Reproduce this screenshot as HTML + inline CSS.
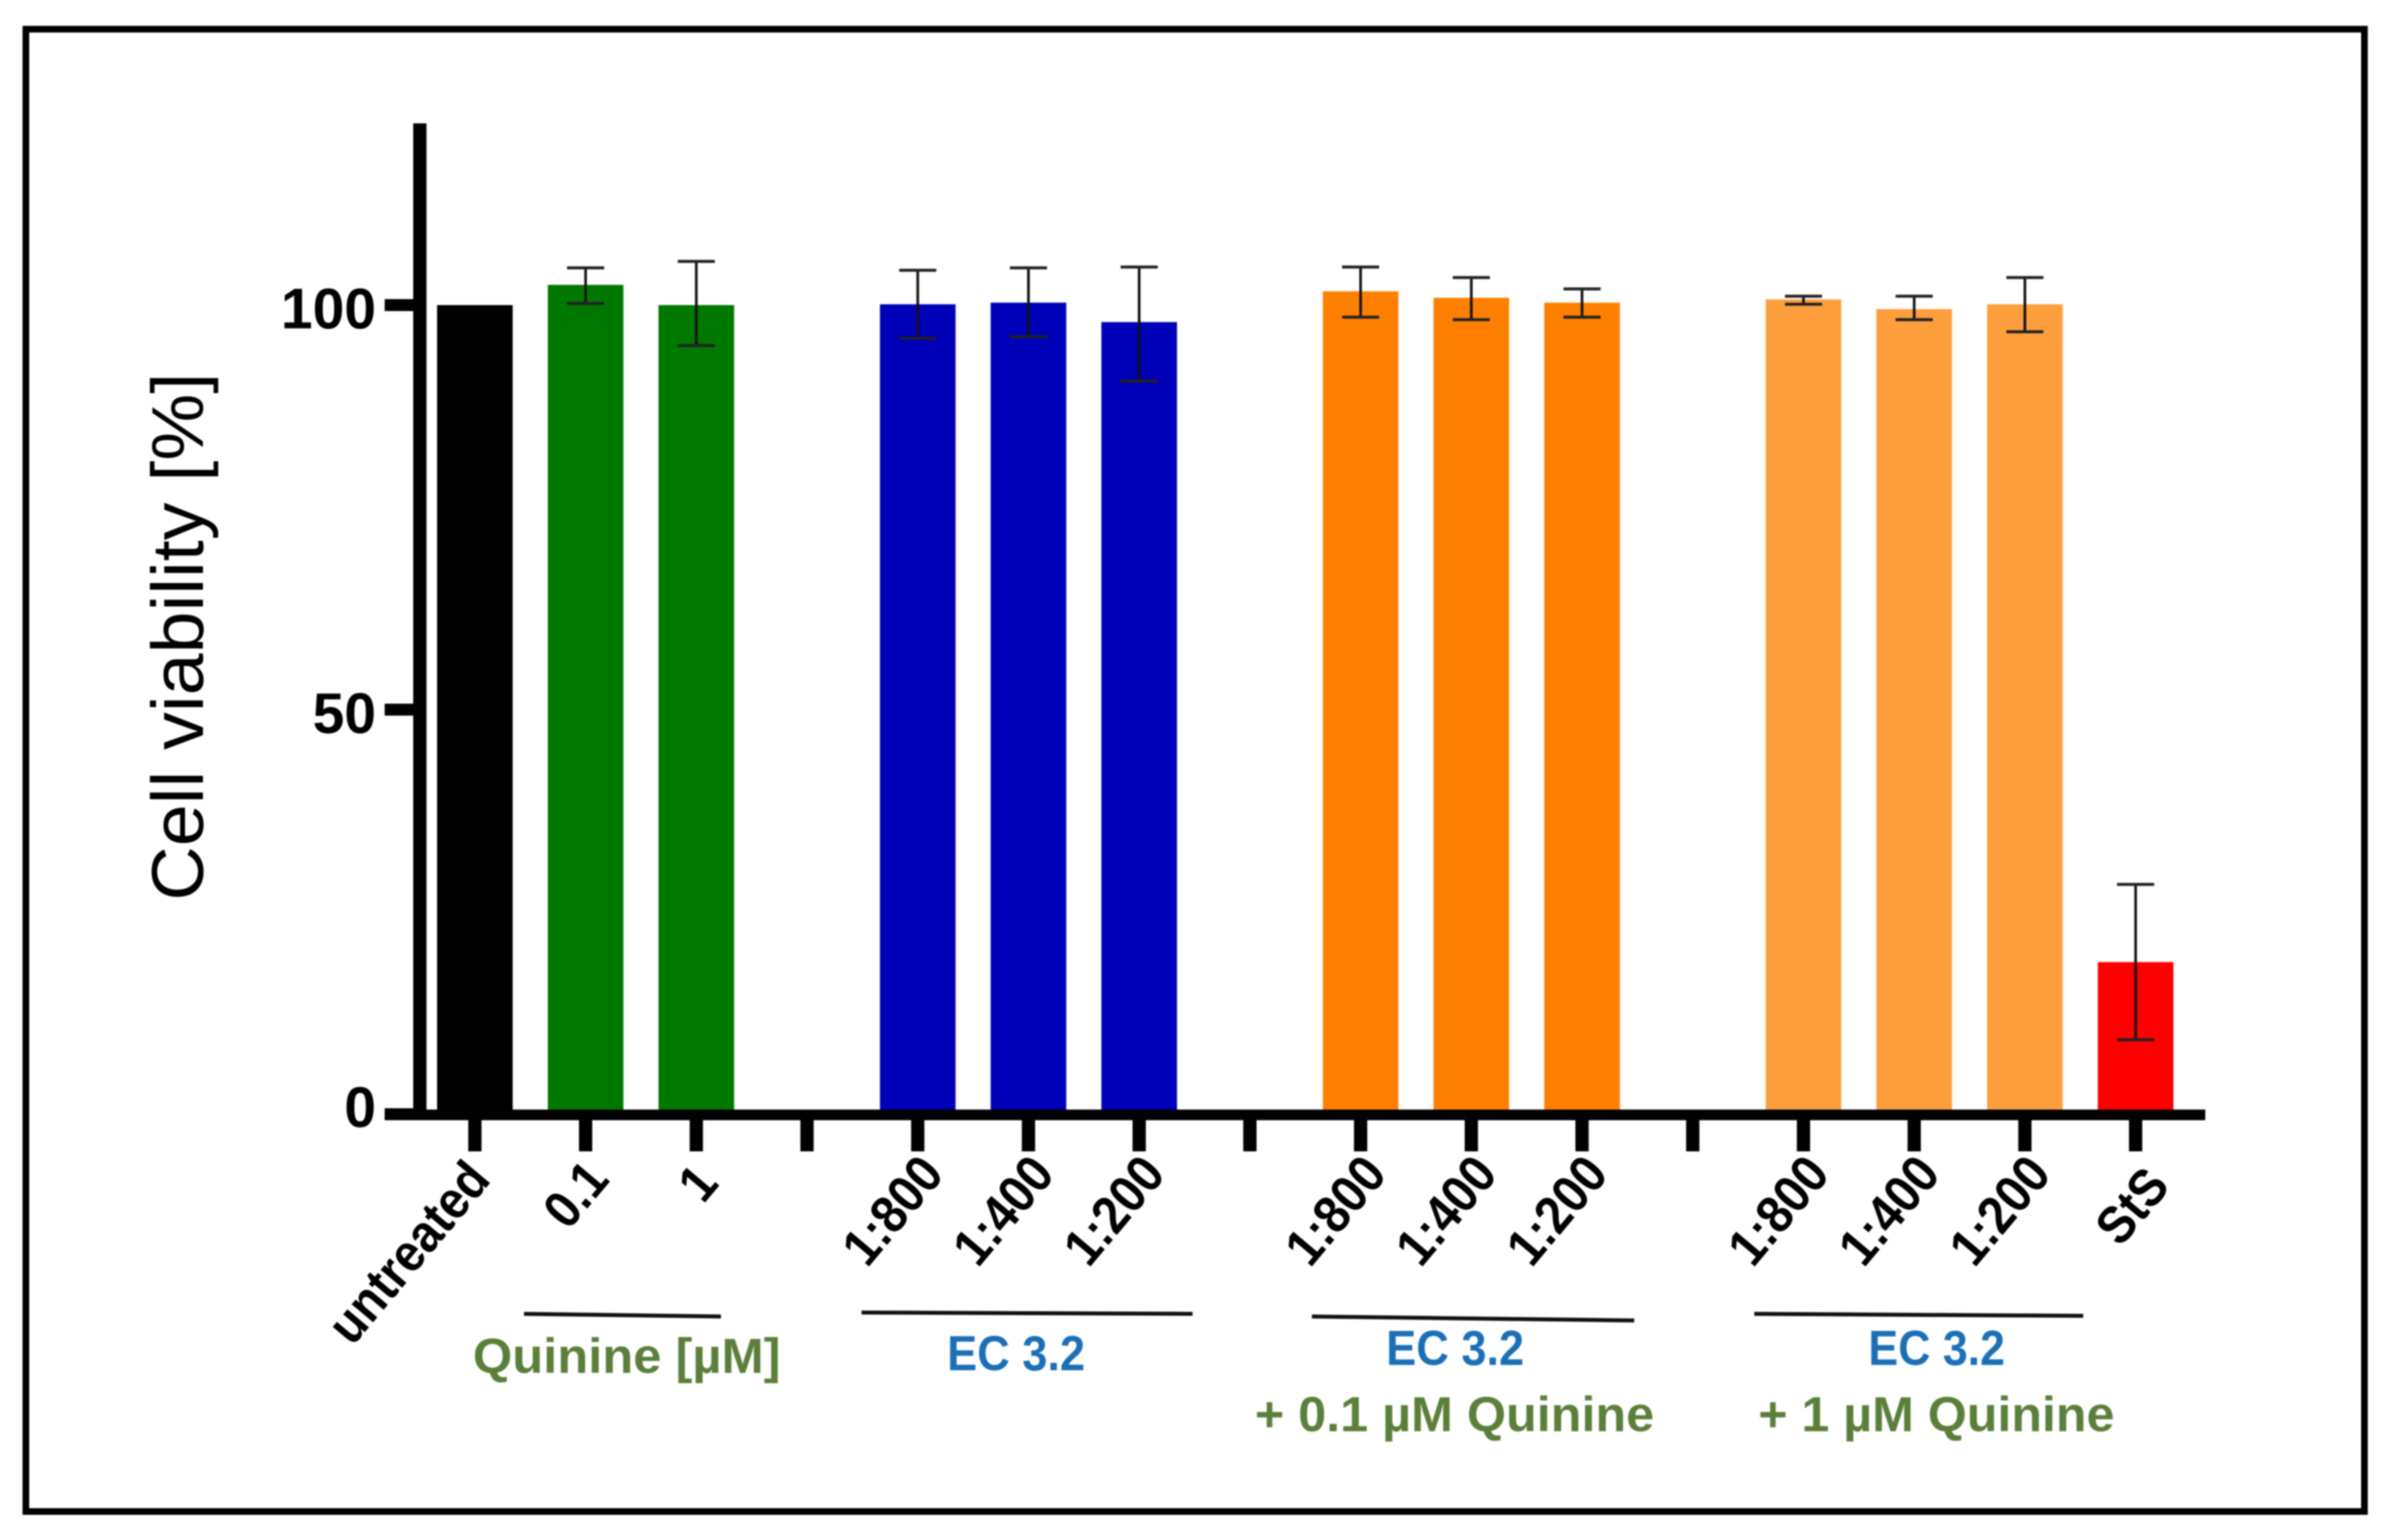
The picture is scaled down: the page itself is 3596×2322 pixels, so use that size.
<!DOCTYPE html>
<html lang="en">
<head>
<meta charset="utf-8">
<title>Cell viability bar chart</title>
<style>
html,body{margin:0;padding:0;background:#fff;width:3596px;height:2322px;overflow:hidden}
svg{display:block;font-family:"Liberation Sans",sans-serif;filter:blur(1px)}
</style>
</head>
<body>
<svg id="chart" xmlns="http://www.w3.org/2000/svg" width="3596" height="2322" viewBox="0 0 3596 2322">
  <rect width="3596" height="2322" fill="#fff"/>
  <rect x="39" y="44" width="3526" height="2235" fill="none" stroke="#000" stroke-width="10"/>
  <text transform="translate(306,1358) rotate(-90)" font-size="110" textLength="796" lengthAdjust="spacingAndGlyphs" fill="#000">Cell viability [%]</text>
  <g id="bars"></g>
  <g id="errors"></g>
  <g id="axes"></g>
  <g id="xlabels"></g>
  <line x1="790" y1="1981" x2="1087" y2="1985" stroke="#111" stroke-width="6"/>
  <line x1="1299" y1="1979" x2="1798" y2="1981" stroke="#111" stroke-width="6"/>
  <line x1="1978" y1="1985" x2="2464" y2="1991" stroke="#111" stroke-width="6"/>
  <line x1="2645" y1="1981" x2="3141" y2="1984" stroke="#111" stroke-width="6"/>
  <g font-weight="700" font-size="74">
    <text x="713" y="2070" textLength="464" lengthAdjust="spacingAndGlyphs" fill="#5b7f3a">Quinine [µM]</text>
    <text x="1428" y="2066" textLength="208" lengthAdjust="spacingAndGlyphs" fill="#1b6fb5">EC 3.2</text>
    <text x="2090" y="2058" textLength="208" lengthAdjust="spacingAndGlyphs" fill="#1b6fb5">EC 3.2</text>
    <text x="1892" y="2158" textLength="602" lengthAdjust="spacingAndGlyphs" fill="#5b7f3a">+ 0.1 µM Quinine</text>
    <text x="2817" y="2058" textLength="206" lengthAdjust="spacingAndGlyphs" fill="#1b6fb5">EC 3.2</text>
    <text x="2651" y="2158" textLength="537" lengthAdjust="spacingAndGlyphs" fill="#5b7f3a">+ 1 µM Quinine</text>
  </g>
</svg>
<script>
// Chart data (blank categories are the gap ticks between groups)
const categories = ["untreated","0.1","1","","1:800","1:400","1:200","","1:800","1:400","1:200","","1:800","1:400","1:200","StS"];
const groups     = ["control","quinine","quinine",null,"ec","ec","ec",null,"ecq01","ecq01","ecq01",null,"ecq1","ecq1","ecq1","sts"];
const values     = [100,102.5,100,null,100.1,100.3,97.9,null,101.7,100.9,100.3,null,100.7,99.5,100.1,18.8];
const errorHigh  = [null,104.6,105.4,null,104.3,104.6,104.7,null,104.7,103.4,102.0,null,101.1,101.1,103.4,28.4];
const errorLow   = [null,100.2,95.0,null,95.9,96.1,90.6,null,98.5,98.2,98.5,null,100.1,98.2,96.7,9.2];
const yTicks     = [0,50,100];

const groupColors = {control:"#000000",quinine:"#007800",ec:"#0000b8",ecq01:"#ff8000",ecq1:"#ff9e3d",sts:"#ff0000"};
const SVG = "http://www.w3.org/2000/svg";

function xPos(i){ return 716 + i * (3220 - 716) / (categories.length - 1); }
function yPos(v){ return 1680 - v * 12.2; }
function mk(tag, parent){ const el = document.createElementNS(SVG, tag); parent.appendChild(el); return el; }
function attrs(el, o){ for (const k in o) el.setAttribute(k, o[k]); return el; }
// Small per-label placement tweak, applied after the axis position
function labelDx(text){ return text === "untreated" ? -16 : text === "0.1" ? -4 : text === "1" ? -6 : text === "StS" ? 12 : 0; }
function labelDy(text){ return text === "untreated" ? 8 : text === "0.1" ? 8 : text === "1" ? 14 : text === "StS" ? 18 : 0; }

const barLayer = document.getElementById("bars");
const errLayer = document.getElementById("errors");
const axisLayer = document.getElementById("axes");
const labelLayer = document.getElementById("xlabels");
const barWidth = 114, capWidth = 56;

categories.forEach(function(cat, i){
  const cx = xPos(i);
  if (values[i] !== null) {
    const bar = attrs(mk("rect", barLayer), {x: cx - barWidth / 2, y: yPos(values[i]), width: barWidth, height: yPos(0) - yPos(values[i]), fill: groupColors[groups[i]]});
    
    
  }
  if (errorHigh[i] !== null) {
    const stem = attrs(mk("line", errLayer), {x1: cx, x2: cx, y1: yPos(errorHigh[i]), y2: yPos(errorLow[i]), stroke: "#111", "stroke-width": 4});
    
    
    const capTop = attrs(mk("line", errLayer), {x1: cx - capWidth / 2, x2: cx + capWidth / 2, y1: yPos(errorHigh[i]), y2: yPos(errorHigh[i]), stroke: "#222", "stroke-width": 4.5});
    
    
    const capBottom = attrs(mk("line", errLayer), {x1: cx - capWidth / 2, x2: cx + capWidth / 2, y1: yPos(errorLow[i]), y2: yPos(errorLow[i]), stroke: "#222", "stroke-width": 4.5});
    
    
  }
  const tick = attrs(mk("rect", axisLayer), {x: cx - 10, y: 1681, width: 20, height: 55, fill: "#000"});
  
  
  if (cat) {
    const t = attrs(mk("text", labelLayer), {transform: "translate(" + (cx + 42 + labelDx(cat)) + "," + (1772 + labelDy(cat)) + ") rotate(-50) scale(.9,1)", "text-anchor": "end", "font-size": 80, "font-weight": 700, fill: "#000"});
    t.textContent = cat;
    
    
  }
});

const yAxis = attrs(mk("rect", axisLayer), {x: 623, y: 186, width: 20, height: 1503, fill: "#000"});


const xAxis = attrs(mk("rect", axisLayer), {x: 580, y: 1673, width: 2745, height: 16, fill: "#000"});



yTicks.forEach(function(v){
  const tick = attrs(mk("rect", axisLayer), {x: 580, y: yPos(v) - 9, width: 50, height: 18, fill: "#000"});
  
  
  const label = attrs(mk("text", axisLayer), {x: 567, y: yPos(v) + (v === 0 ? 19 : 35), "text-anchor": "end", "font-size": 86, "font-weight": 700, fill: "#000"});
  label.textContent = v;
  
  
});
</script>
</body>
</html>
